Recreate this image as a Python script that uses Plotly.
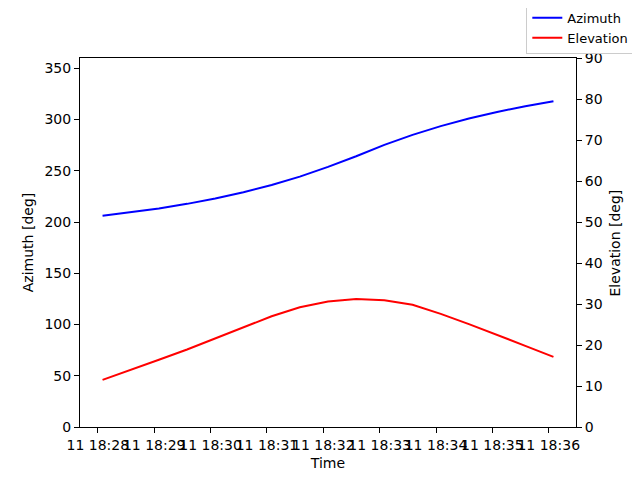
import plotly.graph_objects as go

# samples every 30 s
times = [
    "2024-06-11 18:28:05", "2024-06-11 18:28:35", "2024-06-11 18:29:05",
    "2024-06-11 18:29:35", "2024-06-11 18:30:05", "2024-06-11 18:30:35",
    "2024-06-11 18:31:05", "2024-06-11 18:31:35", "2024-06-11 18:32:05",
    "2024-06-11 18:32:35", "2024-06-11 18:33:05", "2024-06-11 18:33:35",
    "2024-06-11 18:34:05", "2024-06-11 18:34:35", "2024-06-11 18:35:05",
    "2024-06-11 18:35:35", "2024-06-11 18:36:05",
]
azimuth = [206.0, 209.3, 213.2, 217.7, 222.9, 229.0, 236.1, 244.3, 253.8,
           264.2, 275.3, 285.0, 293.5, 301.0, 307.4, 312.9, 317.8]
elevation = [11.5, 13.9, 16.4, 18.9, 21.6, 24.2, 27.0, 29.2, 30.6,
             31.2, 30.9, 29.8, 27.6, 25.1, 22.5, 19.8, 17.1]

font = dict(family="DejaVu Sans", size=14, color="black")

fig = go.Figure()
fig.add_trace(go.Scatter(x=times, y=azimuth, mode="lines", name="Azimuth",
                         line=dict(color="#0000ff", width=2)))
fig.add_trace(go.Scatter(x=times, y=elevation, mode="lines", name="Elevation",
                         line=dict(color="#ff0000", width=2), yaxis="y2"))

axis_style = dict(showgrid=False, zeroline=False, showline=True, linecolor="black",
                  linewidth=1, ticks="outside", ticklen=5, tickcolor="black",
                  tickfont=font)

# page body adds an 8px offset, so the figure is sized 632x472
fig.update_layout(
    width=632, height=472,
    margin=dict(l=72, r=64, t=50, b=53, autoexpand=False),
    paper_bgcolor="white", plot_bgcolor="white",
    font=font,
    xaxis=dict(axis_style, type="date", range=["2024-06-11 18:27:41", "2024-06-11 18:36:29"],
               dtick=60000, tickformat="%d %H:%M", tickangle=0, mirror=True,
               title=dict(text="Time", font=font, standoff=6)),
    yaxis=dict(axis_style, range=[0, 360], dtick=50,
               title=dict(text="Azimuth [deg]", font=font, standoff=7)),
    yaxis2=dict(axis_style, range=[0, 90], dtick=10, overlaying="y", side="right"),
    legend=dict(xref="container", yref="container", x=0.991, y=0.903,
                xanchor="right", yanchor="bottom",
                bgcolor="rgba(255,255,255,0.8)", bordercolor="#cccccc", borderwidth=1,
                font=dict(family="DejaVu Sans", size=13, color="black"),
                tracegroupgap=0),
    showlegend=True,
)

# right axis title (the axis title lands inside the plot here, so draw it as text)
fig.add_annotation(text="Elevation [deg]", xref="paper", yref="paper",
                   x=1.0786, y=0.5, xanchor="center", yanchor="middle",
                   textangle=-90, showarrow=False, font=font)

fig.write_html("out.html")
